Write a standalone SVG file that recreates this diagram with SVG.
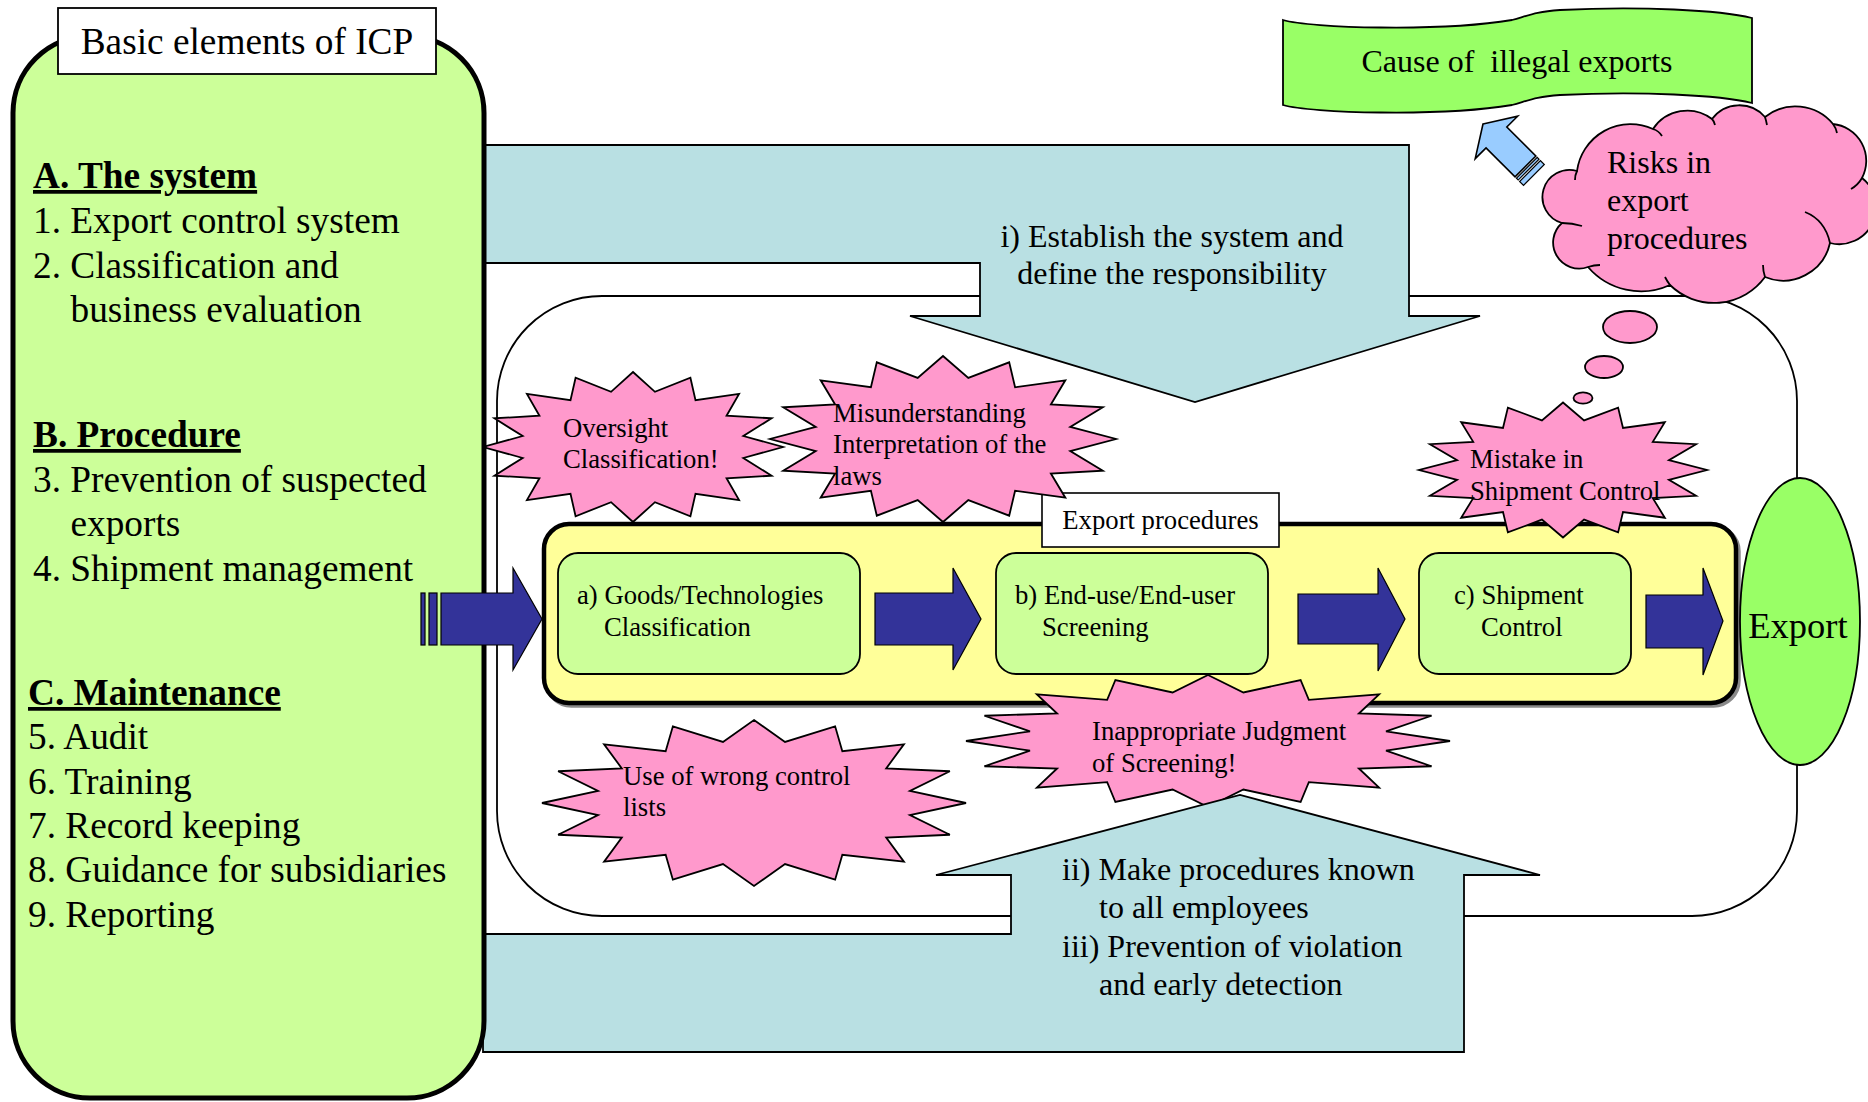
<svg xmlns="http://www.w3.org/2000/svg" xmlns:xlink="http://www.w3.org/1999/xlink" width="1868" height="1102" viewBox="0 0 1868 1102">
<style>
  text { font-family: "Liberation Serif", "Times New Roman", serif; fill: #000; }
  .t37 { font-size: 37.3px; }
  .t32 { font-size: 32px; }
  .t27 { font-size: 26.7px; }
  .hd { font-weight: bold; text-decoration: underline; }
  .pink { fill: #FF99CC; stroke: #000; stroke-width: 1.8; }
  .navy { fill: #333399; stroke: #000; stroke-width: 1.2; }
  .teal { fill: #B9E0E3; stroke: #000; stroke-width: 1.8; }
  .proc { fill: #CCFF99; stroke: #000; stroke-width: 1.8; }
  .curl { fill: none; stroke: #000; stroke-width: 1.8; }
</style>
<defs>
  <!-- 16-point seal, unit size; scaled per use -->
  <polygon id="star16" vector-effect="non-scaling-stroke" points="0,-1 0.14632,-0.73559 0.38268,-0.92388 0.41668,-0.6236 0.70711,-0.70711 0.6236,-0.41668 0.92388,-0.38268 0.73559,-0.14632 1,0 0.73559,0.14632 0.92388,0.38268 0.6236,0.41668 0.70711,0.70711 0.41668,0.6236 0.38268,0.92388 0.14632,0.73559 0,1 -0.14632,0.73559 -0.38268,0.92388 -0.41668,0.6236 -0.70711,0.70711 -0.6236,0.41668 -0.92388,0.38268 -0.73559,0.14632 -1,0 -0.73559,-0.14632 -0.92388,-0.38268 -0.6236,-0.41668 -0.70711,-0.70711 -0.41668,-0.6236 -0.38268,-0.92388 -0.14632,-0.73559"/>
</defs>

<rect width="1868" height="1102" fill="#fff"/>

<!-- process area frame -->
<g id="process-area">
  <rect x="497" y="296" width="1300" height="620" rx="105" ry="105" fill="#fff" stroke="#000" stroke-width="1.8"/>
</g>

<!-- export procedures band -->
<g id="export-procedures">
  <rect x="546.5" y="526.5" width="1192" height="179" rx="25" ry="25" fill="none" stroke="#8a8a8a" stroke-width="4.5"/>
  <rect x="544" y="524" width="1192" height="179" rx="25" ry="25" fill="#FFFF99" stroke="#000" stroke-width="4.5"/>
  <rect x="1042" y="493" width="237" height="54" fill="#fff" stroke="#000" stroke-width="1.6"/>
  <text class="t27" x="1160.5" y="529" text-anchor="middle">Export procedures</text>
</g>

<g id="step-classification">
  <rect class="proc" x="558" y="553" width="302" height="121" rx="20" ry="20"/>
  <text class="t27" x="577" y="604">a) Goods/Technologies</text>
  <text class="t27" x="604" y="636">Classification</text>
</g>
<g id="step-screening">
  <rect class="proc" x="996" y="553" width="272" height="121" rx="20" ry="20"/>
  <text class="t27" x="1015" y="604">b) End-use/End-user</text>
  <text class="t27" x="1042" y="636">Screening</text>
</g>
<g id="step-shipment">
  <rect class="proc" x="1419" y="553" width="212" height="121" rx="20" ry="20"/>
  <text class="t27" x="1454" y="604">c) Shipment</text>
  <text class="t27" x="1481" y="636">Control</text>
</g>

<!-- risk bursts -->
<g id="risk-oversight">
  <use href="#star16" class="pink" transform="translate(633,447) scale(150,75)"/>
  <text class="t27" x="563" y="437">Oversight</text>
  <text class="t27" x="563" y="468">Classification!</text>
</g>
<g id="risk-misunderstanding">
  <use href="#star16" class="pink" transform="translate(943,439) scale(173,83)"/>
  <text class="t27" x="833" y="422">Misunderstanding</text>
  <text class="t27" x="833" y="453">Interpretation of the</text>
  <text class="t27" x="833" y="485">laws</text>
</g>
<g id="risk-shipment">
  <use href="#star16" class="pink" transform="translate(1563,470) scale(144,67.5)"/>
  <text class="t27" x="1470" y="468">Mistake in</text>
  <text class="t27" x="1470" y="500">Shipment Control</text>
</g>
<g id="risk-control-lists">
  <use href="#star16" class="pink" transform="translate(754,803) scale(212,83)"/>
  <text class="t27" x="623" y="785">Use of wrong control</text>
  <text class="t27" x="623" y="816">lists</text>
</g>
<g id="risk-judgment">
  <use href="#star16" class="pink" transform="translate(1208,741) scale(242,66)"/>
  <text class="t27" x="1092" y="740">Inappropriate Judgment</text>
  <text class="t27" x="1092" y="772">of Screening!</text>
</g>

<!-- measures ii / iii (upward block arrow) -->
<g id="measure-procedures">
  <path class="teal" d="M483,934 H1011 V875 H936 L1240,795 L1540,875 H1464 V1052 H483 Z"/>
  <text class="t32" x="1062" y="880">ii) Make procedures known</text>
  <text class="t32" x="1099" y="918">to all employees</text>
  <text class="t32" x="1062" y="957">iii) Prevention of violation</text>
  <text class="t32" x="1099" y="995">and early detection</text>
</g>

<!-- measure i (downward block arrow) -->
<g id="measure-system">
  <path class="teal" d="M483,145 H1409 V316 H1480 L1195,402 L910,316 H980 V263 H483 Z"/>
  <text class="t32" x="1172" y="247" text-anchor="middle">i) Establish the system and</text>
  <text class="t32" x="1172" y="284" text-anchor="middle">define the responsibility</text>
</g>

<!-- ICP elements panel -->
<g id="icp-elements">
  <rect x="13" y="36" width="471" height="1062" rx="77" ry="77" fill="#CCFF99" stroke="#000" stroke-width="5"/>
  <rect x="58" y="8" width="378" height="66" fill="#fff" stroke="#000" stroke-width="1.8"/>
  <text class="t37" x="247" y="54" text-anchor="middle">Basic elements of ICP</text>

  <text class="t37 hd" x="33" y="188">A. The system</text>
  <text class="t37" x="33" y="233">1. Export control system</text>
  <text class="t37" x="33" y="278">2. Classification and</text>
  <text class="t37" x="70.5" y="322">business evaluation</text>

  <text class="t37 hd" x="33" y="447">B. Procedure</text>
  <text class="t37" x="33" y="492">3. Prevention of suspected</text>
  <text class="t37" x="70.5" y="536">exports</text>
  <text class="t37" x="33" y="581">4. Shipment management</text>

  <text class="t37 hd" x="28" y="705">C. Maintenance</text>
  <text class="t37" x="28" y="749">5. Audit</text>
  <text class="t37" x="28" y="794">6. Training</text>
  <text class="t37" x="28" y="838">7. Record keeping</text>
  <text class="t37" x="28" y="882">8. Guidance for subsidiaries</text>
  <text class="t37" x="28" y="927">9. Reporting</text>
</g>

<!-- flow arrows -->
<g id="connectors">
  <rect class="navy" x="421" y="593" width="4" height="52"/>
  <rect class="navy" x="429" y="593" width="8" height="52"/>
  <path class="navy" d="M441,593 H513 V568 L542,619 L513,670 V645 H441 Z"/>
  <path class="navy" d="M875,593 H953 V568 L981,619 L953,670 V645 H875 Z"/>
  <path class="navy" d="M1298,594 H1378 V568 L1405,619 L1378,671 V644 H1298 Z"/>
  <path class="navy" d="M1646,595 H1703 V568 L1723,621 L1703,675 V648 H1646 Z"/>

  <!-- thought bubbles rising from the shipment burst -->
  <ellipse class="pink" cx="1583" cy="398" rx="9.5" ry="5.7"/>
  <ellipse class="pink" cx="1604" cy="367" rx="19" ry="11"/>
  <ellipse class="pink" cx="1630" cy="327" rx="27" ry="16"/>

  <!-- striped arrow from the cloud to the banner -->
  <g transform="translate(1483,124) rotate(45)">
    <path d="M0,0 L19,-30 V-14.7 H60 V14.7 H19 V30 Z" fill="#99CCFF" stroke="#000" stroke-width="1.6"/>
    <rect x="62" y="-14.7" width="2.5" height="29.4" fill="#99CCFF" stroke="#000" stroke-width="1.2"/>
    <rect x="66.5" y="-14.7" width="5.5" height="29.4" fill="#99CCFF" stroke="#000" stroke-width="1.2"/>
  </g>
</g>

<!-- export target -->
<g id="export">
  <ellipse cx="1800" cy="621.5" rx="60" ry="143.5" fill="#99FF66" stroke="#000" stroke-width="1.8"/>
  <text x="1798" y="638" text-anchor="middle" font-size="36.5">Export</text>
</g>

<!-- banner -->
<g id="cause-banner">
  <path d="M1283,20 C1310,28 1440,32 1512,20 C1530,15 1535,12 1560,10 C1640,6 1720,10 1752,18 L1752,103 C1720,95 1640,91 1560,95 C1535,97 1530,100 1512,105 C1440,117 1310,113 1283,105 Z" fill="#99FF66" stroke="#000" stroke-width="1.8"/>
  <text class="t32" x="1517" y="72" text-anchor="middle" xml:space="preserve" style="white-space:pre">Cause of  illegal exports</text>
</g>

<!-- cloud -->
<g id="risk-cloud">
  <path class="pink" d="M1577,171 A54,54 0 0,1 1653,129 A41,41 0 0,1 1712,119 A34,34 0 0,1 1765,117 A49,49 0 0,1 1833,124 A37,37 0 0,1 1862,178 A37,37 0 0,1 1830,243 A48,48 0 0,1 1765,277 A63,63 0 0,1 1670,285 A70,70 0 0,1 1588,267 A26,26 0 0,1 1562,223 A27,27 0 0,1 1577,171 Z"/>
  <path class="curl" d="M1577,171 Q1575,175 1575,180 M1653,129 Q1659,131 1662,136 M1712,119 Q1714,121 1715,125 M1765,117 Q1766,120 1767,125 M1833,124 Q1836,128 1837,133 M1862,178 Q1858,185 1851,189 M1830,243 Q1825,220 1805,212 M1765,277 Q1763,271 1763,265 M1670,285 Q1667,281 1665,277 M1588,267 Q1594,265 1600,265 M1562,223 Q1572,223 1582,226"/>
  <text class="t32" x="1607" y="173">Risks in</text>
  <text class="t32" x="1607" y="211">export</text>
  <text class="t32" x="1607" y="249">procedures</text>
</g>
</svg>
